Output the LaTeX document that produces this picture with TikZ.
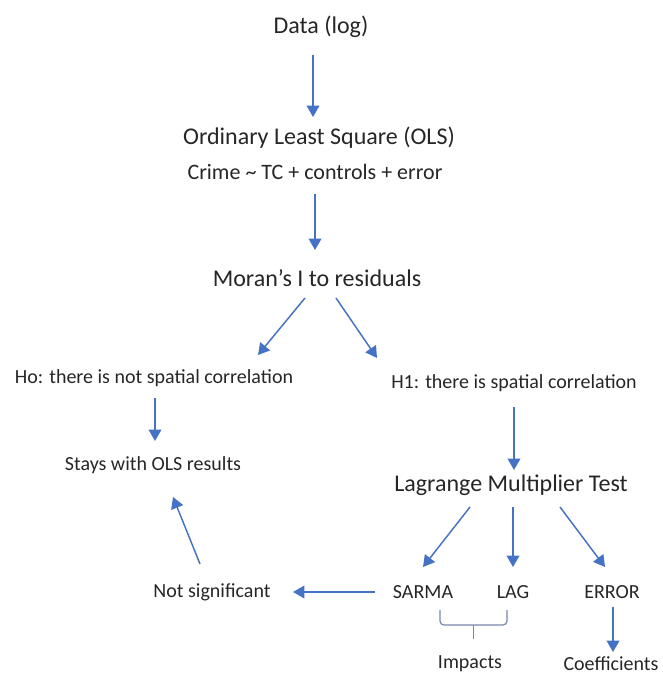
\documentclass[tikz,border=0pt]{standalone}
\usepackage{fontspec}
\setmainfont{Carlito}
\usetikzlibrary{arrows.meta,positioning,calc}
\definecolor{ink}{HTML}{262626}
\definecolor{flowblue}{HTML}{4472C4}
\definecolor{bracegray}{HTML}{7686A8}
\tikzset{
  >=Latex,
  every node/.style={text=ink,inner sep=0pt},
  big/.style={font=\fontsize{18}{21}\selectfont},
  mid/.style={font=\fontsize{16.5}{19}\selectfont},
  small/.style={font=\fontsize{15}{17}\selectfont},
  arrow/.style={-{Triangle[width=9.5pt,length=8.5pt]},line width=1.1pt,draw=flowblue},
  bracket/.style={draw=bracegray,line width=0.9pt,rounded corners=3pt},
}
\begin{document}
\begin{tikzpicture}[x=0.75pt,y=-0.75pt]
\useasboundingbox (0,0) rectangle (662,680);

\node[big] (data) at (321,27) {Data (log)};
\node[big] (ols) at (319,138) {Ordinary Least Square (OLS)};
\node[mid] (crime) at (315,172) {Crime \textasciitilde{} TC + controls + error};
\node[big] (moran) at (317,278) {Moran’s I to residuals};

\node[small] (ho) at (154,378) {Ho: there is not spatial correlation};
\node[small] (h1) at (514,383) {H1: there is spatial correlation};
\node[small] (stays) at (153,465) {Stays with OLS results};
\node[big] (lm) at (511,485) {Lagrange Multiplier Test};

\node[small] (notsig) at (212,592) {Not significant};
\node[small] (sarma) at (423,592) {SARMA};
\node[small] (lag) at (513,592) {LAG};
\node[small] (error) at (612,592) {ERROR};
\node[small] (impacts) at (470,664) {Impacts};
\node[small] (coeff) at (611,664) {Coefficients};

\foreach \a/\p/\b/\q in {data/{-8,28}/ols/{-6,-21}, crime/{0,22}/moran/{-2,-28},
  moran/{-12,20}/ho/{104,-23}, moran/{19,20}/h1/{-137,-25}, ho/{1,20}/stays/{2,-24},
  h1/{0,24}/lm/{3,-15}, lm/{-41,22}/sarma/{0,-25}, lm/{2,22}/lag/{0,-25},
  lm/{49,22}/error/{-7,-25}, sarma/{-48,0}/notsig/{81,0}, notsig/{-12,-28}/stays/{20,32},
  error/{1,15}/coeff/{2,-12}}{\draw[arrow] ($(\a)+(\p)$) -- ($(\b)+(\q)$);}

% brace under SARMA and LAG
\coordinate (bl) at ($(sarma)+(17,18)$);
\coordinate (br) at ($(lag)+(-6,18)$);
\coordinate (bm) at ($(bl)!0.5!(br)$);
\draw[bracket] (bl) -- ++(0,15) -| (br);
\draw[bracket] ($(bm)+(0,15)$) -- ($(bm)+(0,29)$);

\end{tikzpicture}
\end{document}
